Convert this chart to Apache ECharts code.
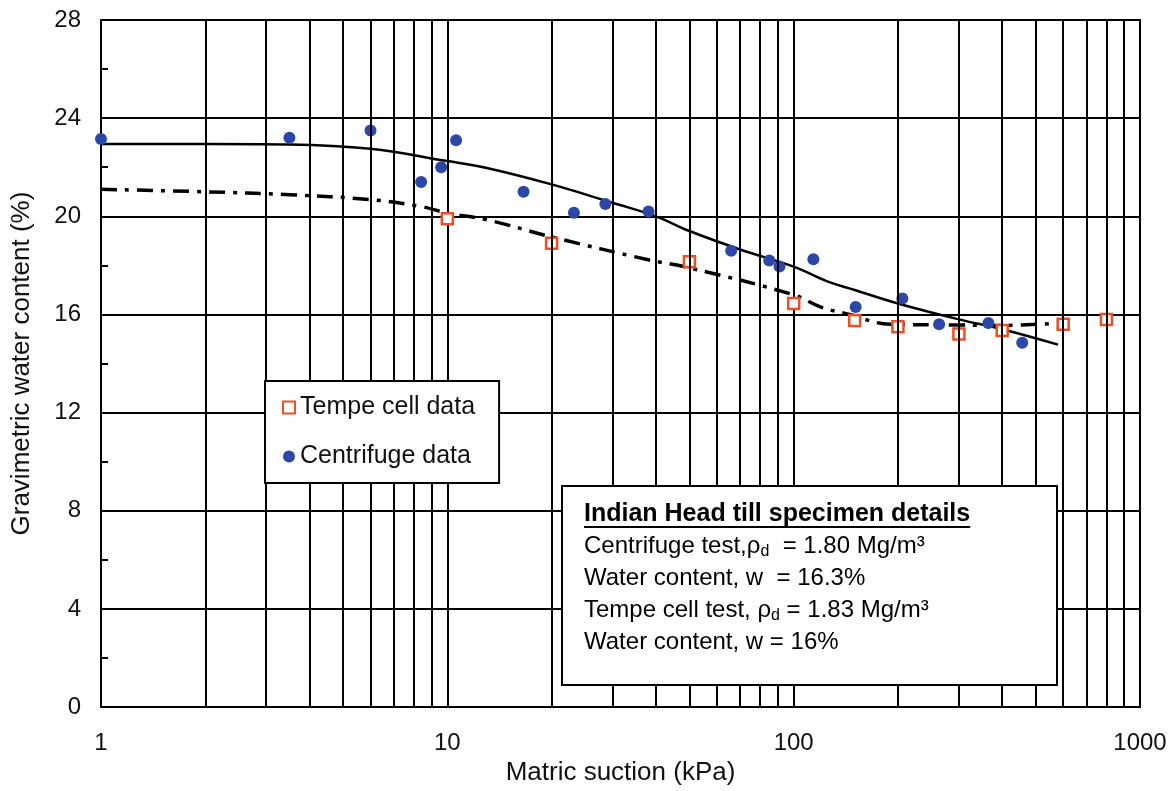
<!DOCTYPE html>
<html>
<head>
<meta charset="utf-8">
<script src="https://cdn.jsdelivr.net/npm/echarts@6/dist/echarts.min.js"></script>
<style>
html,body{margin:0;padding:0;background:#fff;}
#chart{width:1174px;height:791px;}
</style>
</head>
<body>
<div id="chart"></div>
<script>
// ---- data ----
var tempeX = [10, 20, 50, 100, 150, 200, 300, 400, 600, 800];
var tempeY = [19.9, 18.9, 18.15, 16.45, 15.75, 15.5, 15.2, 15.35, 15.6, 15.8];

var centX = [1, 3.5, 6.0, 8.4, 9.6, 10.6, 16.6, 23.2, 28.6, 38.1, 66, 85, 91, 114, 151, 206, 263, 365, 457];
var centY = [23.15, 23.2, 23.5, 21.4, 22.0, 23.1, 21.0, 20.15, 20.5, 20.2, 18.6, 18.2, 17.95, 18.25, 16.3, 16.65, 15.6, 15.65, 14.85];

var fitX = [1, 2, 3.5, 6, 10, 13, 20, 30, 40, 50, 70, 100, 125, 150, 200, 300, 400, 580];
var fitY = [22.95, 22.95, 22.93, 22.75, 22.25, 21.97, 21.3, 20.55, 20.0, 19.4, 18.65, 17.95, 17.35, 17.0, 16.45, 15.8, 15.4, 14.77];

var ddX = [1, 2, 3.5, 6, 8.4, 10, 13, 20, 38, 50, 100, 120, 145, 190, 300, 400, 590];
var ddY = [21.1, 21.0, 20.88, 20.68, 20.4, 20.13, 19.86, 19.16, 18.23, 17.9, 16.8, 16.3, 16.0, 15.6, 15.57, 15.55, 15.66];

var minorX = [2,3,4,5,6,7,8,9,20,30,40,50,60,70,80,90,200,300,400,500,600,700,800,900];

var infoTitle = 'Indian Head till specimen details';
var infoLines = [
  ['Centrifuge test,ρ', 'd', '  = 1.80 Mg/m³'],
  ['Water content, w  = 16.3%'],
  ['Tempe cell test, ρ', 'd', ' = 1.83 Mg/m³'],
  ['Water content, w = 16%']
];

function zip(a, b) { return a.map(function (v, i) { return [v, b[i]]; }); }

var FONT = 'Liberation Sans, Arial, sans-serif';
var chart = echarts.init(document.getElementById('chart'));

// measure title width for underline
var cvs = document.createElement('canvas').getContext('2d');
cvs.font = 'bold 25px Liberation Sans';
var titleW = cvs.measureText(infoTitle).width;

var ZTOP = 100;
var infoChildren = [
  {type: 'rect', z: ZTOP, shape: {x: 0, y: 0, width: 495, height: 199},
   style: {fill: '#fff', stroke: '#000', lineWidth: 2}},
  {type: 'text', z: ZTOP + 1, x: 22, y: 28,
   style: {text: infoTitle, font: 'bold 25px ' + FONT, fill: '#000', verticalAlign: 'middle'}},
  {type: 'line', z: ZTOP + 1, shape: {x1: 22, y1: 41, x2: 22 + titleW, y2: 41},
   style: {stroke: '#000', lineWidth: 2}}
];
infoLines.forEach(function (parts, i) {
  var txt;
  if (parts.length === 3) {
    txt = '{a|' + parts[0] + '}{s|' + parts[1] + '}{a|' + parts[2] + '}';
  } else {
    txt = '{a|' + parts[0] + '}';
  }
  infoChildren.push({
    type: 'text', z: ZTOP + 1, x: 22, y: 60 + i * 32,
    style: {
      text: txt, fill: '#000', verticalAlign: 'middle',
      rich: {
        a: {fontFamily: FONT, fontSize: 24, lineHeight: 28, fill: '#000'},
        s: {fontFamily: FONT, fontSize: 16, lineHeight: 14, verticalAlign: 'bottom', fill: '#000'}
      }
    }
  });
});

var option = {
  backgroundColor: '#fff',
  animation: false,
  grid: {left: 101, right: 34, top: 20, bottom: 83, show: true, borderColor: '#000', borderWidth: 2},
  xAxis: {
    type: 'log', logBase: 10, min: 1, max: 1000,
    axisLine: {show: true, lineStyle: {color: '#000', width: 2}},
    axisTick: {show: false},
    axisLabel: {fontFamily: FONT, fontSize: 24, color: '#111', margin: 24,
      formatter: function (v) { return String(Math.round(v)); }},
    splitLine: {show: true, lineStyle: {color: '#000', width: 2}},
    name: 'Matric suction (kPa)', nameLocation: 'middle', nameGap: 50,
    nameTextStyle: {fontFamily: FONT, fontSize: 26, color: '#111'}
  },
  yAxis: {
    type: 'value', min: 0, max: 28, interval: 4,
    axisLine: {show: true, lineStyle: {color: '#000', width: 2}},
    axisTick: {show: true, inside: true, length: 7, lineStyle: {color: '#000', width: 2}},
    minorTick: {show: true, splitNumber: 2, length: 7, lineStyle: {color: '#000', width: 2}},
    axisLabel: {fontFamily: FONT, fontSize: 24, color: '#111', margin: 20},
    splitLine: {show: true, lineStyle: {color: '#000', width: 2}},
    name: 'Gravimetric water content (%)', nameLocation: 'middle', nameGap: 66,
    nameTextStyle: {fontFamily: FONT, fontSize: 26, color: '#111'}
  },
  legend: {
    left: 265, top: 381, orient: 'vertical', z: 50,
    backgroundColor: '#fff', borderColor: '#000', borderWidth: 2,
    padding: [14, 24, 14, 17], itemGap: 24, itemWidth: 12, itemHeight: 12,
    textStyle: {fontFamily: FONT, fontSize: 25, color: '#111'},
    data: ['Tempe cell data', 'Centrifuge data']
  },
  graphic: [{type: 'group', left: 561, top: 485, z: ZTOP, children: infoChildren}],
  series: [
    {
      name: 'grid', type: 'line', data: [], z: 1, silent: true,
      markLine: {
        silent: true, symbol: ['none', 'none'], label: {show: false},
        lineStyle: {color: '#000', width: 2, type: 'solid'},
        data: minorX.map(function (v) { return {xAxis: v}; })
      }
    },
    {
      name: 'fit', type: 'line', data: zip(fitX, fitY), smooth: 0.4, showSymbol: false, z: 2,
      lineStyle: {color: '#000', width: 2.5}
    },
    {
      name: 'fit2', type: 'line', data: zip(ddX, ddY), smooth: 0.4, showSymbol: false, z: 2,
      lineStyle: {color: '#000', width: 3.5, type: [16, 8, 4, 8]}
    },
    {
      name: 'Centrifuge data', type: 'scatter', data: zip(centX, centY), z: 3,
      symbol: 'circle', symbolSize: 12,
      itemStyle: {color: '#2B47A8', opacity: 1}
    },
    {
      name: 'Tempe cell data', type: 'scatter', data: zip(tempeX, tempeY), z: 4,
      symbol: 'rect', symbolSize: 11,
      itemStyle: {color: '#fff', borderColor: '#EE4F22', borderWidth: 2.5, opacity: 1}
    }
  ]
};
chart.setOption(option);
</script>
</body>
</html>
